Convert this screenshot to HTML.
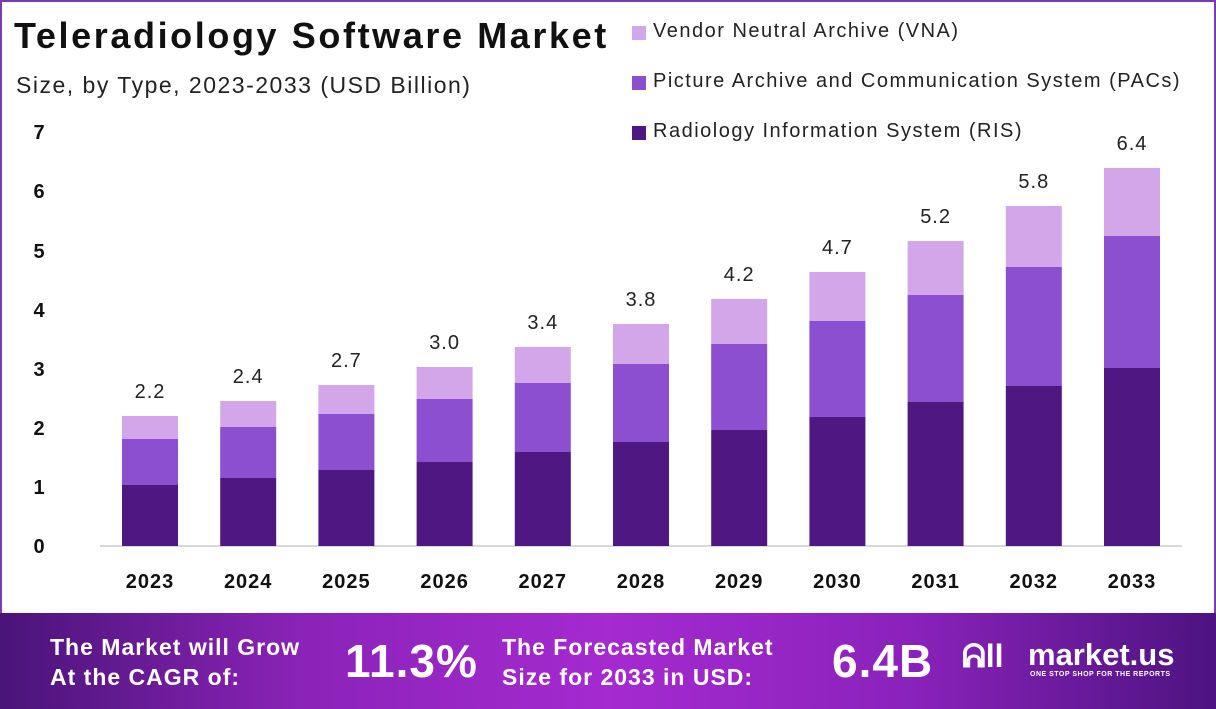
<!DOCTYPE html><html><head><meta charset="utf-8"><style>
body{margin:0;width:1216px;height:709px;overflow:hidden;background:#fff;font-family:"Liberation Sans",sans-serif;position:relative}
.frame{position:absolute;left:0;top:0;width:1212px;height:611px;border:2px solid #7d3bb0;border-bottom:none}
.t{position:absolute;white-space:nowrap}
.foot{position:absolute;left:0;top:613px;width:1216px;height:96px;background:linear-gradient(90deg,#4a1478 0%,#8b23b8 25%,#a52ad0 50%,#8a22bb 75%,#4d1380 100%)}
.f{position:absolute;color:#fff;font-weight:bold;white-space:nowrap}
.lg{font-size:20px;color:#222;letter-spacing:1.5px}
</style></head><body>
<div class="frame"></div>
<div class="t" style="left:14px;top:15px;font-size:36px;font-weight:bold;color:#111;letter-spacing:2.6px">Teleradiology Software Market</div>
<div class="t" style="left:16px;top:72px;font-size:23px;color:#222;letter-spacing:1.5px">Size, by Type, 2023-2033 (USD Billion)</div>
<div style="position:absolute;left:632px;top:26px;width:14px;height:14px;background:#d3a6ea"></div>
<div class="t lg" style="left:653px;top:20px">Vendor Neutral Archive (VNA)</div>
<div style="position:absolute;left:632px;top:76px;width:14px;height:14px;background:#8b4fcf"></div>
<div class="t lg" style="left:653px;top:70px">Picture Archive and Communication System (PACs)</div>
<div style="position:absolute;left:632px;top:126px;width:14px;height:14px;background:#4f1781"></div>
<div class="t lg" style="left:653px;top:120px">Radiology Information System (RIS)</div>
<svg width="1216" height="613" style="position:absolute;left:0;top:0" font-family="Liberation Sans, sans-serif">
<line x1="100" y1="546" x2="1182" y2="546" stroke="#ccc" stroke-width="1.5"/>
<g font-size="20" font-weight="bold" fill="#111" text-anchor="middle">
<text x="39" y="553">0</text><text x="39" y="494">1</text><text x="39" y="435">2</text><text x="39" y="376">3</text><text x="39" y="317">4</text><text x="39" y="258">5</text><text x="39" y="198">6</text><text x="39" y="139">7</text>
</g>
<g id="bars"></g>
</svg>
<script>
var d=[[2023,485,439,416,"2.2"],[2024,478,427,401,"2.4"],[2025,470,414,385,"2.7"],[2026,462,399,367,"3.0"],[2027,452,383,347,"3.4"],[2028,442,364,324,"3.8"],[2029,430,344,299,"4.2"],[2030,417,321,272,"4.7"],[2031,402,295,241,"5.2"],[2032,386,267,206,"5.8"],[2033,368,236,168,"6.4"]];
var s="";d.forEach(function(r,i){var c=150+i*98.2,x=c-28;
s+='<rect x="'+x+'" y="'+r[1]+'" width="56" height="'+(546-r[1])+'" fill="#4f1781"/>';
s+='<rect x="'+x+'" y="'+r[2]+'" width="56" height="'+(r[1]-r[2])+'" fill="#8b4fcf"/>';
s+='<rect x="'+x+'" y="'+r[3]+'" width="56" height="'+(r[2]-r[3])+'" fill="#d3a6ea"/>';
s+='<text x="'+c+'" y="'+(r[3]-18)+'" font-size="20" fill="#222" text-anchor="middle" letter-spacing="1">'+r[4]+'</text>';
s+='<text x="'+c+'" y="588" font-size="20" font-weight="bold" fill="#111" text-anchor="middle" letter-spacing="1">'+r[0]+'</text>';});
document.getElementById("bars").innerHTML=s;
</script>
<div class="foot"></div>
<div class="f" style="left:50px;top:632px;font-size:23px;line-height:30px;letter-spacing:1px">The Market will Grow<br>At the CAGR of:</div>
<div class="f" style="left:345px;top:634px;font-size:46px;letter-spacing:1px">11.3%</div>
<div class="f" style="left:502px;top:632px;font-size:23px;line-height:30px;letter-spacing:1px">The Forecasted Market<br>Size for 2033 in USD:</div>
<div class="f" style="left:832px;top:634px;font-size:46px;letter-spacing:1px">6.4B</div>
<div class="f" style="left:962px;top:638px;font-size:32px">ᕱll</div>
<div class="f" style="left:1028px;top:637px;font-size:31px">market.us</div>
<div class="f" style="left:1030px;top:671px;font-size:7px;letter-spacing:0.5px">ONE STOP SHOP FOR THE REPORTS</div>
</body></html>
